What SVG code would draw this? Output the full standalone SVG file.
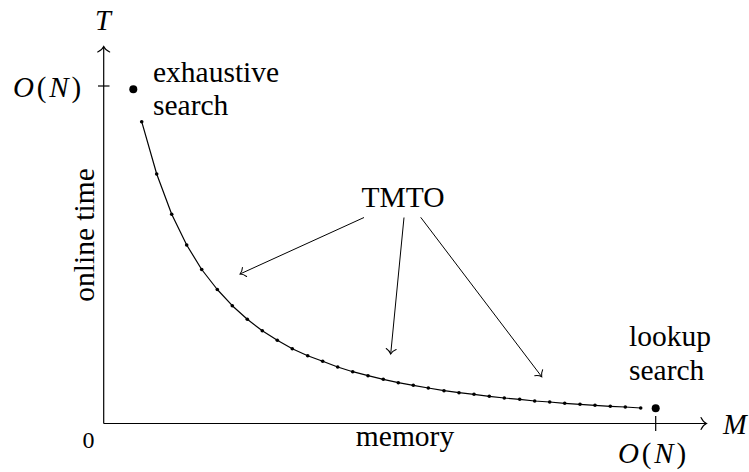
<svg xmlns="http://www.w3.org/2000/svg" width="749" height="472" viewBox="0 0 749 472">
  <style>
    text { font-family: 'Liberation Serif', 'Times New Roman', serif; fill: #000; }
    .lbl { font-size: 29.5px; }
    .var { font-size: 28.5px; font-style: italic; }
    .big { font-size: 29px; letter-spacing: 2.8px; }
    .it { font-style: italic; }
    .axis { stroke: #000; stroke-width: 1.2; fill: none; }
    .curve { stroke: #000; stroke-width: 1.2; fill: none; stroke-linejoin: round; }
    .ptr { stroke: #000; stroke-width: 1; fill: none; }
    .dot { fill: #000; }
  </style>
  <defs>
    <marker id="to" markerUnits="userSpaceOnUse" viewBox="-8 -8 10 16" markerWidth="10" markerHeight="16" refX="0" refY="0" orient="auto">
      <path d="M -5.5,-6 C -4,-2.8 -1.8,-0.8 0,0 C -1.8,0.8 -4,2.8 -5.5,6" stroke="#000" stroke-width="1.1" fill="none" stroke-linecap="round"/>
    </marker>
    <marker id="toS" markerUnits="userSpaceOnUse" viewBox="-8 -8 10 16" markerWidth="10" markerHeight="16" refX="0" refY="0" orient="auto">
      <path d="M -5,-5 C -3.6,-2.4 -1.6,-0.7 0,0 C -1.6,0.7 -3.6,2.4 -5,5" stroke="#000" stroke-width="1" fill="none" stroke-linecap="round"/>
    </marker>
  </defs>

  <!-- axes with ticks -->
  <g id="axes">
    <line class="axis" x1="103.7" y1="423.5" x2="103.7" y2="46.5" marker-end="url(#to)"/>
    <line class="axis" x1="103.7" y1="423.5" x2="706.5" y2="423.5" marker-end="url(#to)"/>
    <line class="axis" x1="98" y1="86" x2="109.5" y2="86"/>
    <line class="axis" x1="655.7" y1="416" x2="655.7" y2="431"/>
  </g>

  <!-- axis labels -->
  <g id="axis-labels">
    <text class="var" x="103" y="30" text-anchor="middle">T</text>
    <text class="var" x="723" y="433.5">M</text>
    <text class="big" x="13" y="96.5"><tspan class="it">O</tspan>(<tspan class="it">N</tspan>)</text>
    <text class="big" x="618" y="463"><tspan class="it">O</tspan>(<tspan class="it">N</tspan>)</text>
    <text x="88.5" y="448" text-anchor="middle" font-size="24">0</text>
    <text class="lbl" x="405" y="445.5" text-anchor="middle">memory</text>
    <text class="lbl" transform="translate(93.5,235) rotate(-90)" text-anchor="middle">online time</text>
  </g>

  <!-- trade-off curve -->
  <g id="tradeoff-curve">
    <polyline class="curve" points="141.7,121.7 156.7,174 171.7,214.3 186.7,245 201.7,269.5 217.3,289.5 232.3,305.7 247.3,319.3 262.3,330.7 277.3,340.3 292.3,348.7 307.7,355.7 322.7,361.3 337.7,367 352.7,371.7 368,375.7 383.3,379.3 398.3,382.7 413.3,385.3 428.3,388 444,390.7 459,392.7 474,394.3 489.3,396.3 504.3,398 519.7,399.3 534.7,401 549.7,402 564.7,403.3 580,404.3 595,405.3 610.3,406.3 625.3,407 640.7,408"/>
    <g class="dot">
      <circle cx="141.7" cy="121.7" r="1.8"/>
      <circle cx="156.7" cy="174" r="1.8"/>
      <circle cx="171.7" cy="214.3" r="1.8"/>
      <circle cx="186.7" cy="245" r="1.8"/>
      <circle cx="201.7" cy="269.5" r="1.8"/>
      <circle cx="217.3" cy="289.5" r="1.8"/>
      <circle cx="232.3" cy="305.7" r="1.8"/>
      <circle cx="247.3" cy="319.3" r="1.8"/>
      <circle cx="262.3" cy="330.7" r="1.8"/>
      <circle cx="277.3" cy="340.3" r="1.8"/>
      <circle cx="292.3" cy="348.7" r="1.8"/>
      <circle cx="307.7" cy="355.7" r="1.8"/>
      <circle cx="322.7" cy="361.3" r="1.8"/>
      <circle cx="337.7" cy="367" r="1.8"/>
      <circle cx="352.7" cy="371.7" r="1.8"/>
      <circle cx="368" cy="375.7" r="1.8"/>
      <circle cx="383.3" cy="379.3" r="1.8"/>
      <circle cx="398.3" cy="382.7" r="1.8"/>
      <circle cx="413.3" cy="385.3" r="1.8"/>
      <circle cx="428.3" cy="388" r="1.8"/>
      <circle cx="444" cy="390.7" r="1.8"/>
      <circle cx="459" cy="392.7" r="1.8"/>
      <circle cx="474" cy="394.3" r="1.8"/>
      <circle cx="489.3" cy="396.3" r="1.8"/>
      <circle cx="504.3" cy="398" r="1.8"/>
      <circle cx="519.7" cy="399.3" r="1.8"/>
      <circle cx="534.7" cy="401" r="1.8"/>
      <circle cx="549.7" cy="402" r="1.8"/>
      <circle cx="564.7" cy="403.3" r="1.8"/>
      <circle cx="580" cy="404.3" r="1.8"/>
      <circle cx="595" cy="405.3" r="1.8"/>
      <circle cx="610.3" cy="406.3" r="1.8"/>
      <circle cx="625.3" cy="407" r="1.8"/>
      <circle cx="640.7" cy="408" r="1.8"/>
    </g>
  </g>

  <!-- extreme points -->
  <g id="exhaustive-search">
    <circle class="dot" cx="133.3" cy="89.3" r="4"/>
    <text class="lbl" x="153" y="82">exhaustive</text>
    <text class="lbl" x="153" y="115">search</text>
  </g>
  <g id="lookup-search">
    <circle class="dot" cx="655.7" cy="408.3" r="4"/>
    <text class="lbl" x="629" y="346">lookup</text>
    <text class="lbl" x="629" y="380">search</text>
  </g>

  <!-- TMTO label -->
  <g id="tmto">
    <text class="lbl" x="403" y="207.3" text-anchor="middle">TMTO</text>
  </g>

  <!-- pointers from the TMTO label to the curve -->
  <g id="connectors">
    <line class="ptr" x1="364" y1="217.5" x2="240" y2="274" marker-end="url(#toS)"/>
    <line class="ptr" x1="404" y1="217.5" x2="390.7" y2="354" marker-end="url(#toS)"/>
    <line class="ptr" x1="420.7" y1="217.3" x2="541.7" y2="376.7" marker-end="url(#toS)"/>
  </g>
</svg>
